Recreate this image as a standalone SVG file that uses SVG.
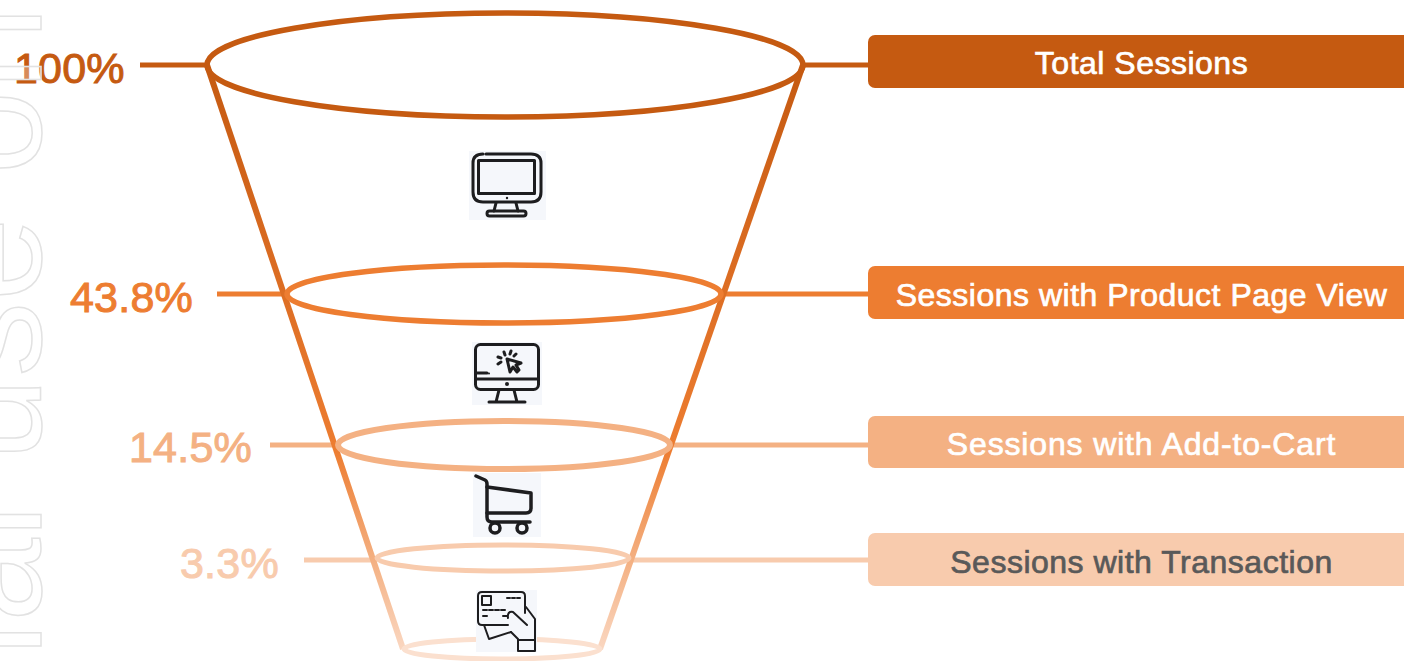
<svg xmlns="http://www.w3.org/2000/svg" width="1404" height="661" viewBox="0 0 1404 661">
<style>
text{font-family:"Liberation Sans",Arial,sans-serif}
.pct{font-size:43px;stroke-width:1px;text-anchor:start;letter-spacing:.2px}
.lbl{font-size:32px;letter-spacing:.5px;text-anchor:middle;fill:#fff;stroke:#fff;stroke-width:.7px}
.ring{fill:none}
.c1{stroke:#c55a11;fill:#c55a11}.c2{stroke:#ed7d31;fill:#ed7d31}.c3{stroke:#f4b183;fill:#f4b183}.c4{stroke:#f8cbad;fill:#f8cbad}
.conn{fill:none;stroke-width:5}
.ic{fill:none;stroke:#1d1d1f;stroke-width:3;stroke-linecap:round;stroke-linejoin:round}
.thin{stroke-width:2}
.bg{fill:#f5f7fb}
.bx{stroke:none}
</style>
<defs>
<linearGradient id="side" gradientUnits="userSpaceOnUse" x1="0" y1="65" x2="0" y2="650">
<stop offset="0" stop-color="#c55a11"/><stop offset=".35" stop-color="#db6c22"/><stop offset=".66" stop-color="#ed7d31"/><stop offset=".85" stop-color="#f4b183"/><stop offset="1" stop-color="#fad7c1"/>
</linearGradient>
</defs>
<rect width="1404" height="661" fill="#fff"/>
<g id="connectors" class="conn">
<path class="c1" style="fill:none" d="M140 65H207M805 65H868"/>
<path class="c2" style="fill:none" d="M217 294H287M722 294H868"/>
<path class="c3" style="fill:none" d="M270 445H338M670 445H868"/>
<path class="c4" style="fill:none" d="M304 560H377M630 560H868"/>
<path d="M207 65L403 649" stroke="url(#side)" stroke-width="6"/>
<path d="M803 65L600 649" stroke="url(#side)" stroke-width="6"/>
</g>
<g id="ring-base"><ellipse class="ring" cx="502" cy="649" rx="98" ry="10" stroke="#fbe0cf" stroke-width="5"/></g>
<g id="stage-total">
<ellipse class="ring" cx="505" cy="65" rx="298" ry="52" stroke="#c55a11" stroke-width="5.500"/>
<text class="pct c1" x="14" y="83">100%</text>
<rect class="c1 bx" x="868" y="35" width="545" height="53" rx="7"/>
<text class="lbl" x="1141.500" y="74">Total Sessions</text>
</g>
<g id="stage-product">
<ellipse class="ring" cx="504" cy="294" rx="217" ry="29" stroke="#ed7d31" stroke-width="5.500"/>
<text class="pct c2" x="70" y="312">43.8%</text>
<rect class="c2 bx" x="868" y="266" width="545" height="53" rx="7"/>
<text class="lbl" x="1141.500" y="306">Sessions with Product Page View</text>
</g>
<g id="stage-cart">
<ellipse class="ring" cx="504" cy="445" rx="166" ry="24" stroke="#f4b183" stroke-width="6"/>
<text class="pct c3" x="129" y="462">14.5%</text>
<rect class="c3 bx" x="868" y="416" width="545" height="52" rx="7"/>
<text class="lbl" x="1141.500" y="455" style="letter-spacing:.85px">Sessions with Add-to-Cart</text>
</g>
<g id="stage-transaction">
<ellipse class="ring" cx="503" cy="558" rx="126" ry="13" stroke="#f8cbad" stroke-width="5"/>
<text class="pct c4" x="180" y="578">3.3%</text>
<rect class="c4 bx" x="868" y="533" width="545" height="53" rx="7"/>
<text class="lbl" x="1141.500" y="573" style="fill:#595959;stroke:#595959">Sessions with Transaction</text>
</g>
<g id="icon-monitor">
<rect class="bg" x="469" y="151" width="77" height="69"/>
<path class="ic" d="M486 154H531Q541 154 541 163V192Q541 202 531 202H483Q473 202 473 192V163Q473 154 483 154"/>
<rect class="ic" x="478.500" y="160.500" width="56" height="33"/>
<path class="ic" d="M496 203L494 211M516 203L518 211"/>
<rect class="ic" x="487" y="211" width="39" height="5" rx="2.500"/>
<circle cx="507" cy="198" r="1.200" fill="#1d1d1f"/>
</g>
<g id="icon-click">
<rect class="bg" x="472" y="342" width="70" height="63"/>
<rect class="ic" x="475.500" y="344.500" width="63" height="45" rx="5"/>
<path class="ic" d="M476 379H538M476 373H487"/>
<circle cx="489" cy="373.500" r="1" fill="#1d1d1f"/>
<circle cx="507" cy="384" r="2" fill="#1d1d1f"/>
<path class="ic" d="M499 390L496 402M514 390L517 402M489 402H525"/>
<path class="ic" d="M507 359L510 372L513 367L517 372L519 370L516 365L521 363Z"/>
<path class="ic" d="M504 352L505 355M511 351L510 354M498 357L501 358M498 364L501 362M516 354L514 356"/>
</g>
<g id="icon-cart">
<rect class="bg" x="473" y="473" width="68" height="64"/>
<path class="ic" style="stroke-width:3.500" d="M476 476L485 480Q487 481 487 484V517Q487 522 492 522H530"/>
<path class="ic" style="stroke-width:3.500" d="M487 487L531 493V508Q531 513 526 513H487"/>
<circle class="ic" style="stroke-width:3.500" cx="495" cy="528" r="5"/>
<circle class="ic" style="stroke-width:3.500" cx="522" cy="528" r="5"/>
</g>
<g id="icon-card">
<rect class="bg" x="476" y="590" width="61" height="62"/>
<path class="ic thin" d="M508 625H482Q478 625 478 621V596Q478 592 482 592H521Q525 592 525 596V613"/>
<rect class="ic thin" x="482" y="596" width="9" height="9"/>
<path class="ic thin" d="M507 598H520" stroke-dasharray="3 2"/>
<path class="ic thin" d="M483 610H505M483 616H489M503 616H507" stroke-dasharray="4 2"/>
<path class="ic thin" d="M484 625L489 639L511 632"/>
<path class="ic thin" d="M511 632L518 639V641M508 618Q507 611 513 612L527 625M526 607L535 619V640"/>
<rect class="ic thin" x="518" y="640" width="17" height="11"/>
</g>
<g id="watermark">
<text transform="translate(41 648) rotate(-90)" x="-8" y="0" font-size="150" letter-spacing=".8" fill="#fff" fill-opacity=".3" stroke="#e2e2e2" stroke-width="1.500">ial use on</text>
</g>
</svg>
